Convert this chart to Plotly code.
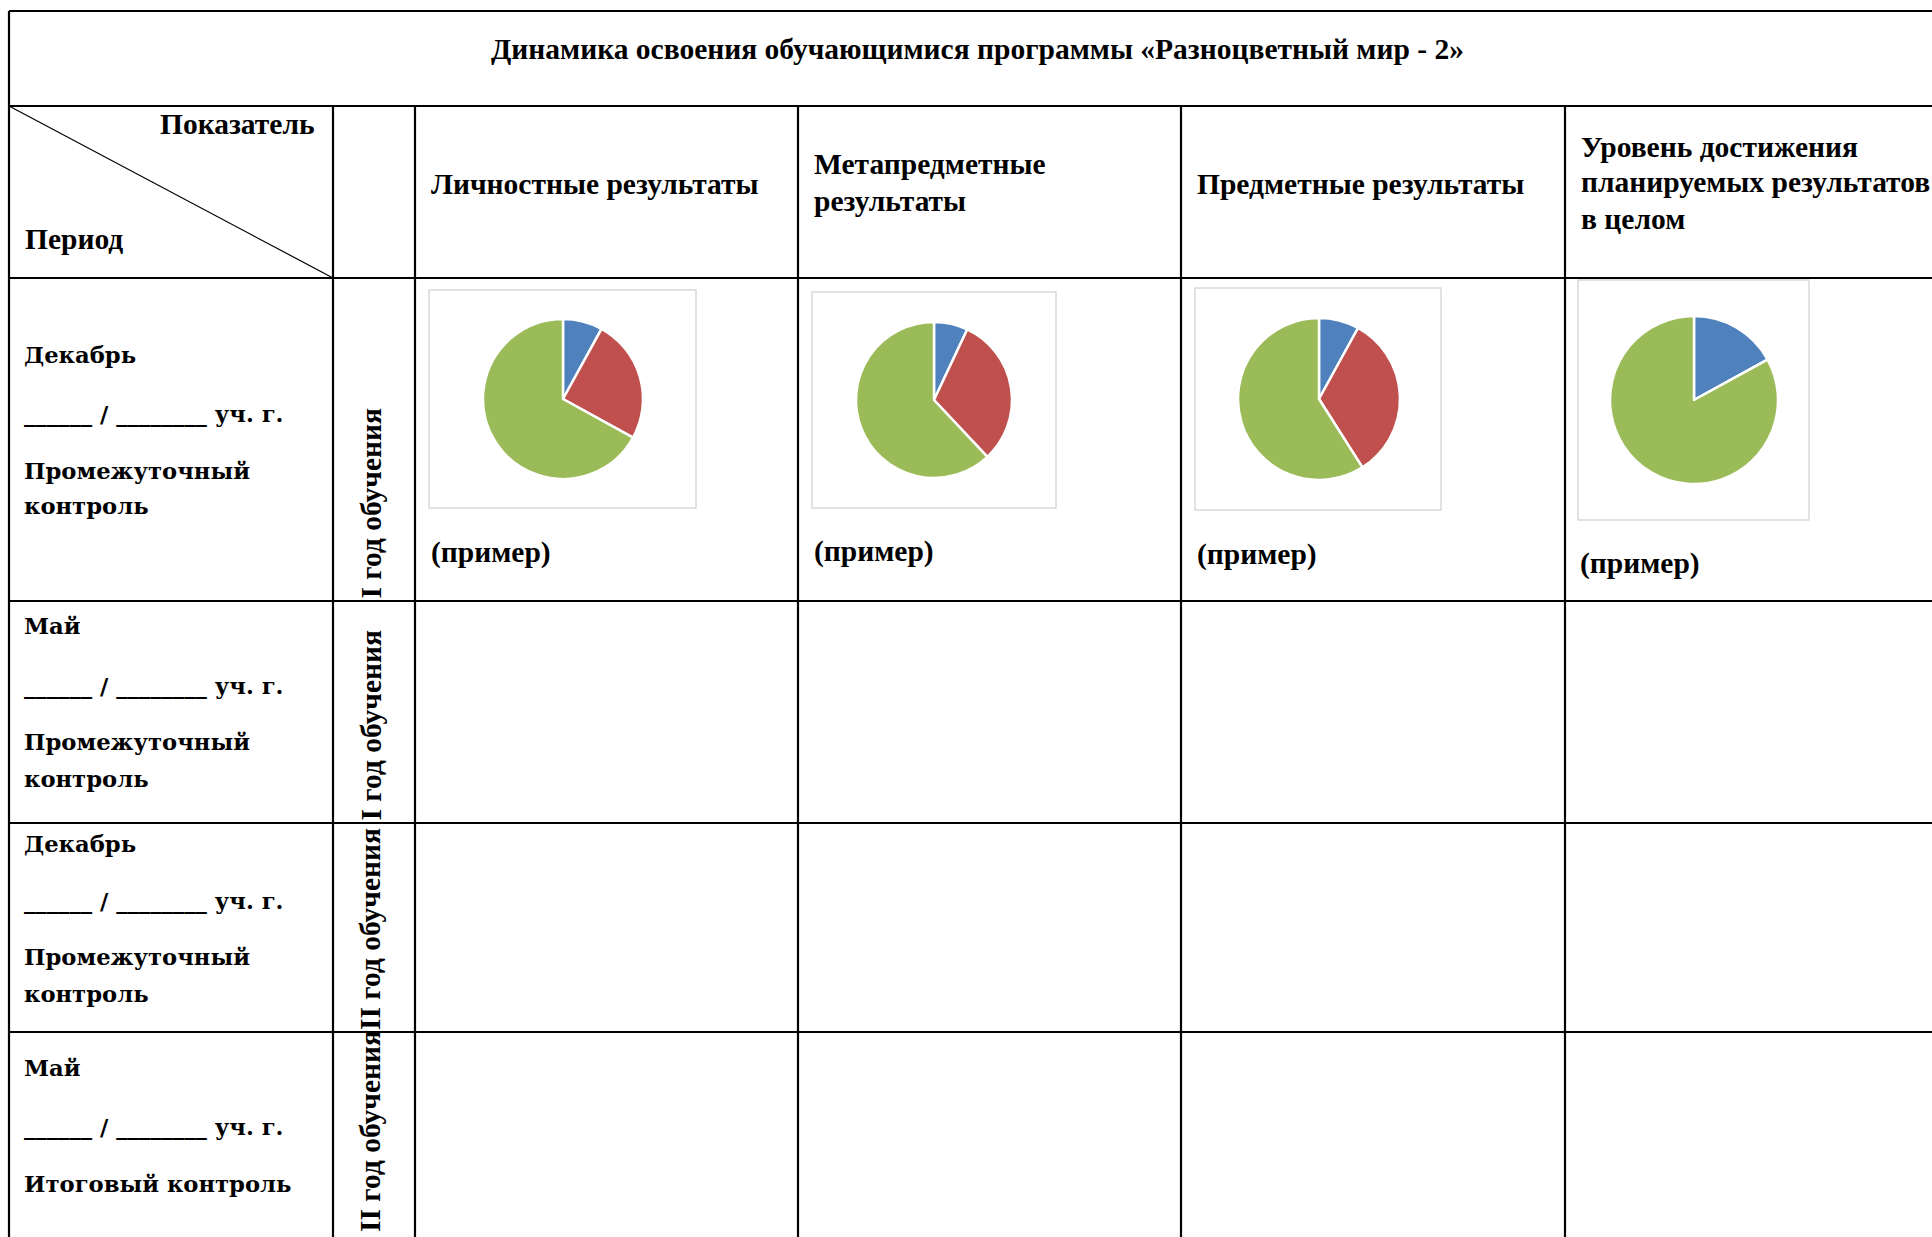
import plotly.graph_objects as go

W, H = 1932, 1237
OFF = 0  # body margin removed by post_script

title = "Динамика освоения обучающимися программы «Разноцветный мир - 2»"
col_headers = [
    ["Личностные результаты"],
    ["Метапредметные", "результаты"],
    ["Предметные результаты"],
    ["Уровень достижения", "планируемых результатов", "в целом"],
]
row_labels = [
    ["Декабрь", "______ / ________ уч. г.", "Промежуточный", "контроль"],
    ["Май", "______ / ________ уч. г.", "Промежуточный", "контроль"],
    ["Декабрь", "______ / ________ уч. г.", "Промежуточный", "контроль"],
    ["Май", "______ / ________ уч. г.", "Итоговый контроль"],
]
year_labels = ["I год обучения", "I год обучения", "II год обучения", "II год обучения"]
slice_names = ["Высокий", "Средний", "Низкий"]
pie_values = [
    [8, 25, 67],
    [7, 31, 62],
    [8, 33, 59],
    [17, 0, 83],
]
example_label = "(пример)"
colors = ["#4F81BD", "#C0504D", "#9BBB59"]

# layout geometry (screen pixels)
left, top = 9, 11
title_bottom = 106
header_bottom = 278
row_bottoms = [601, 823, 1032, 1300]
col_x = [333, 415, 798, 1181, 1565, 1950]

pie_centers = [(563, 399, 80), (934, 400, 78), (1319, 399, 81), (1694, 400, 84)]
frames = [(429, 290, 696, 508), (812, 292, 1056, 508), (1195, 288, 1441, 510), (1578, 280, 1809, 520)]
example_pos = [(429, 552), (812, 551), (1195, 554), (1578, 563)]

fig = go.Figure()

for i, vals in enumerate(pie_values):
    cx, cy, r = pie_centers[i]
    cx -= OFF
    cy -= OFF
    fig.add_trace(go.Pie(
        labels=slice_names, values=vals, sort=False, direction="clockwise",
        rotation=0, textinfo="none", hoverinfo="label+value",
        marker=dict(colors=colors, line=dict(color="white", width=2.5)),
        domain=dict(x=[(cx - r) / W, (cx + r) / W], y=[1 - (cy + r) / H, 1 - (cy - r) / H]),
        showlegend=False,
    ))

shapes = []
def line(x0, y0, x1, y1, w=2.2, c="black"):
    shapes.append(dict(type="line", xref="x", yref="y", x0=x0, y0=y0, x1=x1, y1=y1,
                       line=dict(color=c, width=w)))

line(left, top, W + 20, top)
line(left, title_bottom, W + 20, title_bottom)
line(left, header_bottom, W + 20, header_bottom)
for yb in row_bottoms[:-1]:
    line(left, yb, W + 20, yb)
line(left, top, left, H + 20)
for x in col_x[:-1]:
    line(x, title_bottom, x, H + 20)
line(left, title_bottom, col_x[0], header_bottom, w=1.2)

for (x0, y0, x1, y1) in frames:
    shapes.append(dict(type="rect", xref="x", yref="y", x0=x0, y0=y0, x1=x1, y1=y1,
                       line=dict(color="#D9D9D9", width=1.5), fillcolor="rgba(0,0,0,0)", layer="below"))

ann = []
SERIF = "Liberation Serif"
WIDE = "DejaVu Serif"
FS = 29.5
def text(x, y, s, size=FS, family=SERIF, xanchor="left", angle=0, yanchor="middle"):
    ann.append(dict(x=x, y=y, xref="x", yref="y", text="<b>" + s + "</b>", showarrow=False,
                    xanchor=xanchor, yanchor=yanchor, textangle=angle,
                    font=dict(family=family, size=size, color="black")))

text(977, 49, title, xanchor="center")
text(317, 124, "Показатель", xanchor="right")
text(23, 239, "Период")

header_lines_y = [[184], [164, 201], [184], [147, 182, 219]]
for j, lines in enumerate(col_headers):
    for k, s in enumerate(lines):
        text(col_x[1 + j] + 14, header_lines_y[j][k], s)

row_lines_y = [[355, 414, 471, 506], [626, 686, 742, 779], [844, 901, 957, 994], [1068, 1127, 1184]]
for i, lines in enumerate(row_labels):
    for k, s in enumerate(lines):
        text(22, row_lines_y[i][k], s, size=22.7, family=WIDE)

year_bottoms = [601, 823, 1032, 1234]
for i, s in enumerate(year_labels):
    text(370, year_bottoms[i], s, angle=-90, xanchor="center", yanchor="bottom")

for (x, y) in example_pos:
    text(x, y, example_label)

fig.update_layout(
    width=W, height=H, margin=dict(l=0, r=0, t=0, b=0),
    paper_bgcolor="white", plot_bgcolor="white",
    xaxis=dict(range=[OFF, W + OFF], visible=False, fixedrange=True),
    yaxis=dict(range=[H + OFF, OFF], visible=False, fixedrange=True),
    shapes=shapes, annotations=ann,
)

fig.write_html(
    "out.html",
    config={"displayModeBar": False},
    post_script=("document.body.style.margin='0';"
                 "document.documentElement.style.overflow='hidden';"
                 "document.body.style.overflow='hidden';"),
)
